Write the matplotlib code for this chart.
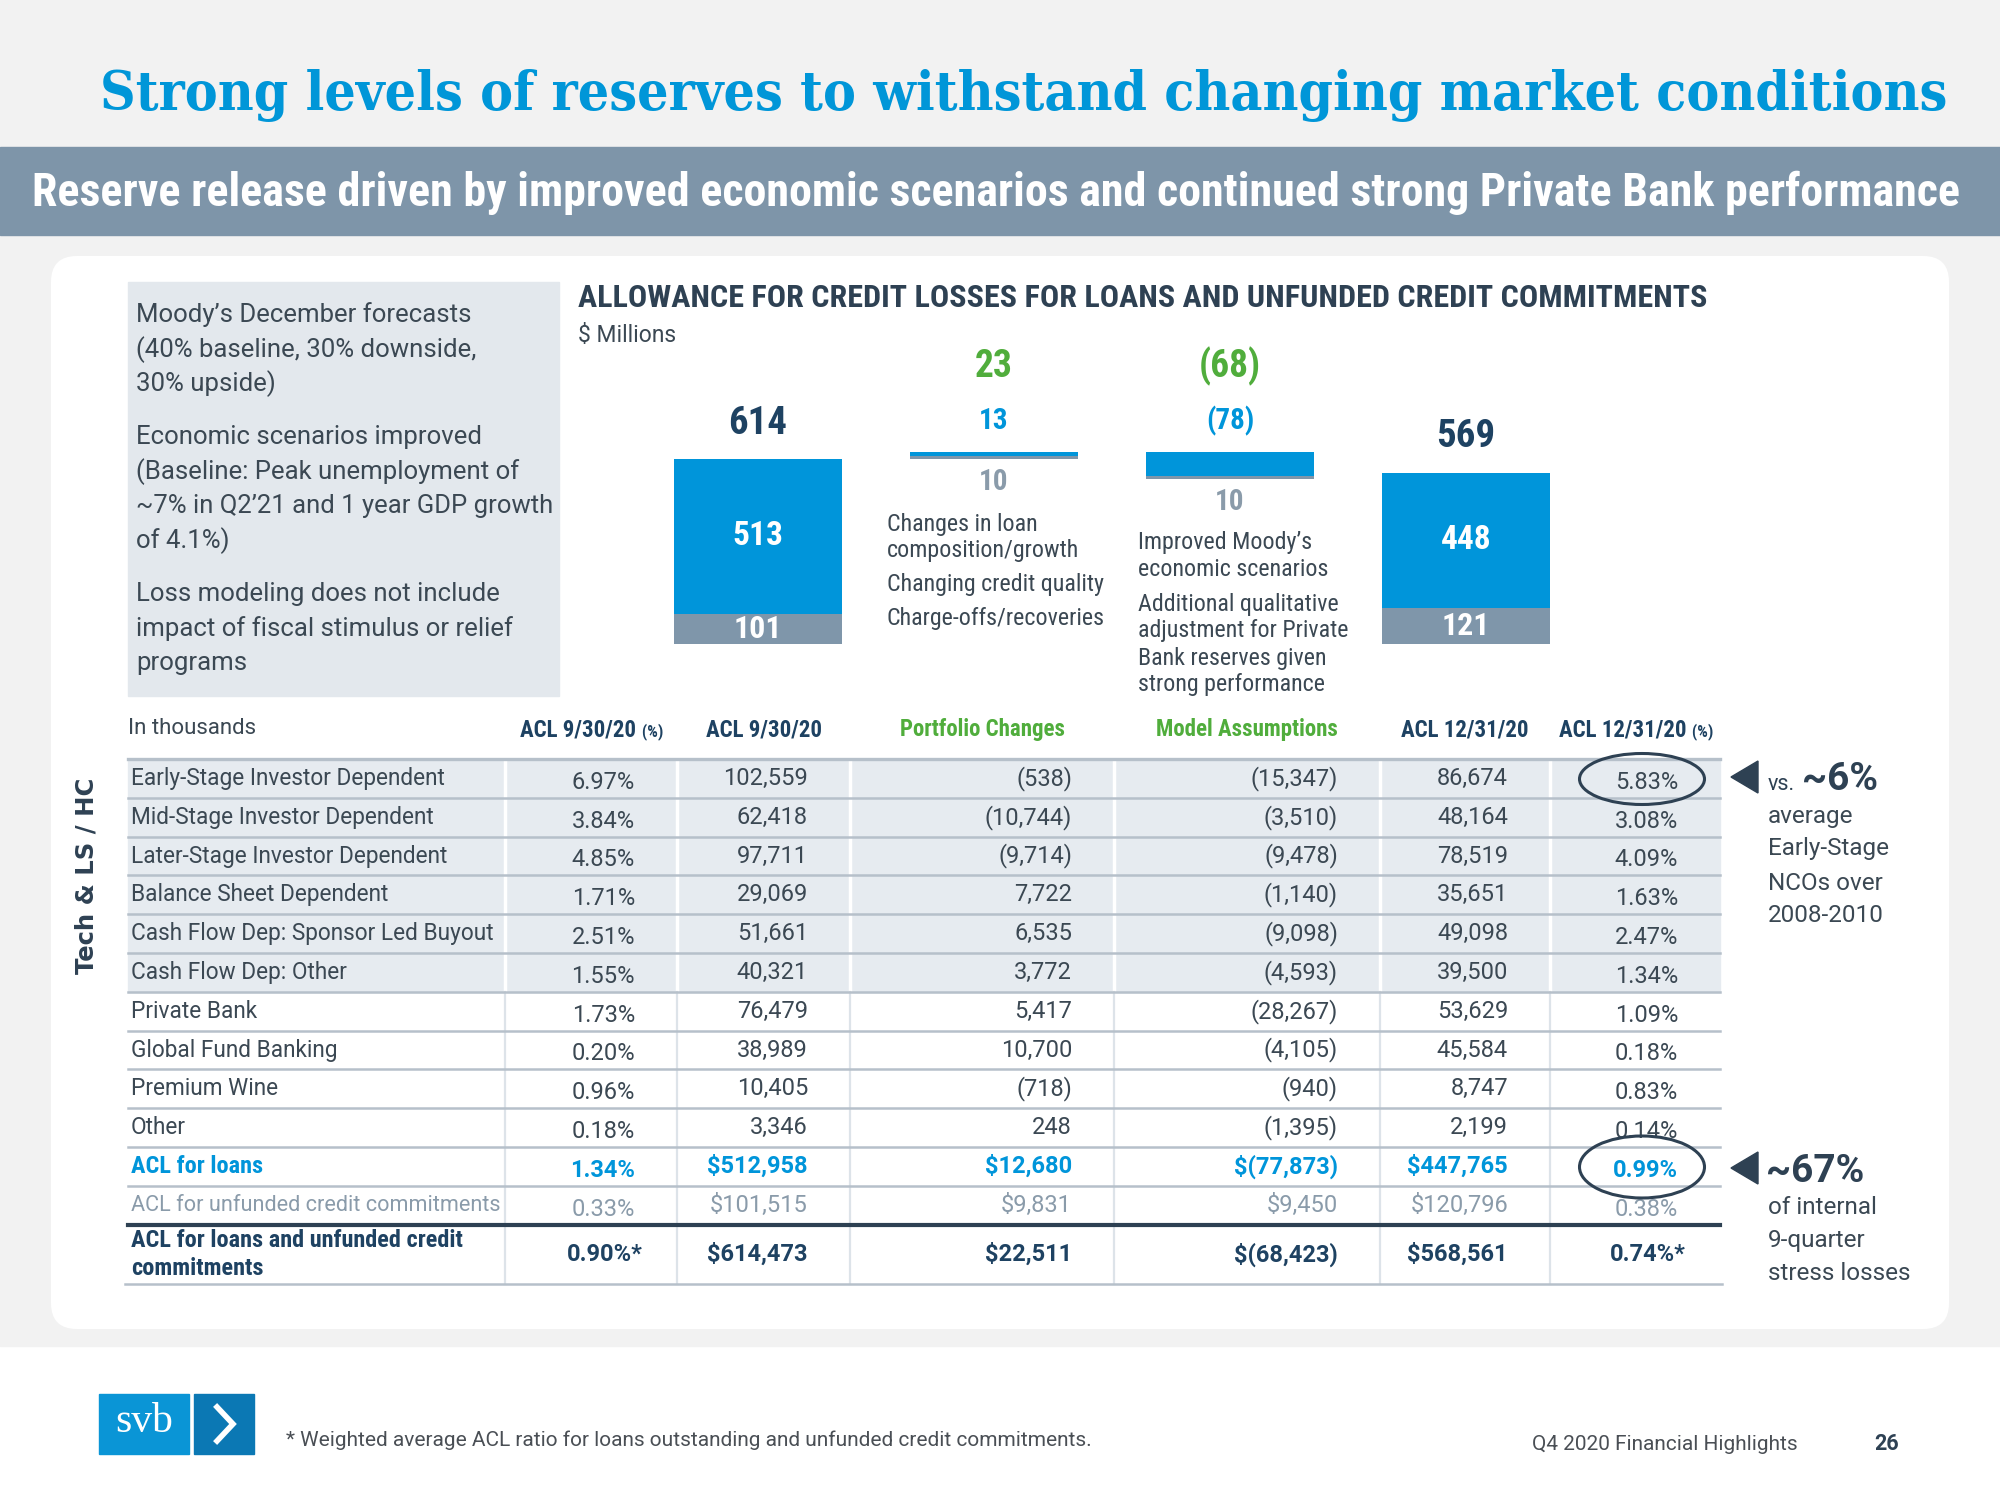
import numpy as np
import matplotlib.pyplot as plt
from matplotlib.patches import Rectangle, FancyBboxPatch, Ellipse, Polygon

# waterfall ($ millions)
steps = ['ACL 9/30/20', 'Portfolio Changes', 'Model Assumptions', 'ACL 12/31/20']
loans_m = [513, 13, -78, 448]
unfunded_m = [101, 10, 10, 121]
totals_m = [614, 23, -68, 569]

# table (in thousands)
segments = ['Early-Stage Investor Dependent', 'Mid-Stage Investor Dependent',
            'Later-Stage Investor Dependent', 'Balance Sheet Dependent',
            'Cash Flow Dep: Sponsor Led Buyout', 'Cash Flow Dep: Other',
            'Private Bank', 'Global Fund Banking', 'Premium Wine', 'Other',
            'ACL for loans', 'ACL for unfunded credit commitments']
pct_sep = [6.97, 3.84, 4.85, 1.71, 2.51, 1.55, 1.73, 0.20, 0.96, 0.18, 1.34, 0.33]
acl_sep = [102559, 62418, 97711, 29069, 51661, 40321, 76479, 38989, 10405, 3346, 512958, 101515]
portfolio_chg = [-538, -10744, -9714, 7722, 6535, 3772, 5417, 10700, -718, 248, 12680, 9831]
model_chg = [-15347, -3510, -9478, -1140, -9098, -4593, -28267, -4105, -940, -1395, -77873, 9450]
acl_dec = [86674, 48164, 78519, 35651, 49098, 39500, 53629, 45584, 8747, 2199, 447765, 120796]
pct_dec = [5.83, 3.08, 4.09, 1.63, 2.47, 1.34, 1.09, 0.18, 0.83, 0.14, 0.99, 0.38]
total_label = 'ACL for loans and unfunded credit\ncommitments'
total_pct = [0.90, 0.74]
total_vals = [614473, 22511, -68423, 568561]

SANS = ['Roboto', 'DejaVu Sans']
COND = ['Roboto Condensed', 'Liberation Sans Narrow', 'Roboto', 'DejaVu Sans']

BLUE = '#0095DA'
SLATE = '#7F96AA'
NAVY = '#1E4262'
DARK = '#2E4153'
INK = '#3B4853'
GREEN = '#50AD3C'
PALE = '#8A9BAA'
LINE = '#B6C0CA'


def money(v, dollar=False):
    s = f'{abs(v):,}'
    if v < 0:
        s = f'({s})'
    return ('$' if dollar else '') + s


fig = plt.figure(figsize=(20, 15), dpi=100)
fig.patch.set_facecolor('white')
page = fig.add_axes([0, 0, 1, 1])
page.set_xlim(0, 2000)
page.set_ylim(1500, 0)
page.axis('off')
R = fig.canvas.get_renderer()


def fit_width(t, width):
    w = t.get_window_extent(R).width
    t.set_fontsize(t.get_fontsize() * width / w)


# background pieces
page.add_patch(Rectangle((0, 0), 2000, 1346, color='#F2F2F2', zorder=0))
page.add_patch(Rectangle((0, 147), 2000, 88, color='#7E95A9', zorder=1))
page.add_patch(FancyBboxPatch((51, 256), 1898, 1073, boxstyle='round,pad=0,rounding_size=26',
                              fc='white', ec='none', zorder=1))

t = page.text(100, 96, 'Strong levels of reserves to withstand changing market conditions',
              family=['DejaVu Serif'], fontstretch='condensed', fontweight='bold',
              color='#0096D8', fontsize=40, va='center', ha='left', zorder=3)
fit_width(t, 1843)
t = page.text(32, 193, 'Reserve release driven by improved economic scenarios and continued strong Private Bank performance',
              family=COND, fontweight='bold', color='white', fontsize=26, va='center', ha='left', zorder=3)
fit_width(t, 1930)

# left info box
page.add_patch(Rectangle((128, 282), 431, 414, color='#E3E8ED', zorder=2))
box_lines = [("Moody\u2019s December forecasts", 315), ("(40% baseline, 30% downside,", 350),
             ("30% upside)", 384),
             ("Economic scenarios improved", 437), ("(Baseline: Peak unemployment of", 472),
             ("~7% in Q2\u201921 and 1 year GDP growth", 506), ("of 4.1%)", 541),
             ("Loss modeling does not include", 594), ("impact of fiscal stimulus or relief", 629),
             ("programs", 663)]
for s, y in box_lines:
    t = page.text(136, y, s, family=SANS, fontsize=18.5, color=INK, va='center', zorder=3)
    if t.get_window_extent(R).width > 418:
        fit_width(t, 418)

# chart header
t = page.text(578, 298, 'ALLOWANCE FOR CREDIT LOSSES FOR LOANS AND UNFUNDED CREDIT COMMITMENTS',
              family=COND, fontweight='bold', color=DARK, fontsize=20, va='center', zorder=3)
fit_width(t, 1127)
page.text(578, 336, '$ Millions', family=SANS, fontsize=16.5, color=INK, va='center', zorder=3)

# waterfall bars
px_per_m = 0.301
bax = fig.add_axes([640 / 2000, (1500 - 644) / 1500, 944 / 2000, 304 / 1500])
bax.set_xlim(-0.5, 3.5)
bax.set_ylim(0, 304 / px_per_m)
bax.axis('off')
bw = 0.712
start = totals_m[0]
for i in range(4):
    unf, lo = unfunded_m[i], loans_m[i]
    if i in (0, 3):
        bax.bar(i, unf, bottom=0, width=bw, color=SLATE)
        bax.bar(i, lo, bottom=unf, width=bw, color=BLUE)
        bax.annotate(f'{totals_m[i]}', (i, unf + lo), xytext=(0, 36), textcoords='offset pixels',
                     ha='center', va='center', family=COND, fontweight='bold', fontsize=28, color=NAVY)
        bax.text(i, unf + lo / 2, f'{lo}', ha='center', va='center', family=COND,
                 fontweight='bold', fontsize=24, color='white')
        bax.text(i, unf / 2, f'{unf}', ha='center', va='center', family=COND,
                 fontweight='bold', fontsize=23, color='white')
        continue
    if lo >= 0:
        gray_b, blue_b, top = start, start + unf, start + unf + lo
    else:
        blue_b = start + lo
        gray_b, top = blue_b - unf, start
    bax.bar(i, abs(lo), bottom=blue_b, width=bw, color=BLUE)
    bax.bar(i, unf, bottom=gray_b, width=bw, color=SLATE)
    lab = f'{lo}' if lo >= 0 else f'({-lo})'
    bax.annotate(lab, (i, top), xytext=(0, 31), textcoords='offset pixels', ha='center',
                 va='center', family=COND, fontweight='bold', fontsize=21, color=BLUE)
    tot = totals_m[i]
    lab = f'{tot}' if tot >= 0 else f'({-tot})'
    bax.annotate(lab, (i, top), xytext=(0, 86), textcoords='offset pixels', ha='center',
                 va='center', family=COND, fontweight='bold', fontsize=27, color=GREEN)
    bax.annotate(f'{unf}', (i, gray_b), xytext=(0, -23), textcoords='offset pixels', ha='center',
                 va='center', family=COND, fontweight='bold', fontsize=21, color=PALE)
    start += tot

notes2 = [('Changes in loan', 524), ('composition/growth', 550), ('Changing credit quality', 584),
          ('Charge-offs/recoveries', 619)]
notes3 = [('Improved Moody\u2019s', 543), ('economic scenarios', 570), ('Additional qualitative', 605),
          ('adjustment for Private', 631), ('Bank reserves given', 658), ('strong performance', 684)]
for s, y in notes2:
    page.text(887, y, s, family=COND, fontsize=17.3, color=INK, va='center', zorder=3)
for s, y in notes3:
    page.text(1138, y, s, family=COND, fontsize=17.3, color=INK, va='center', zorder=3)

# table
col_x = [128, 505, 677, 850, 1114, 1380, 1550, 1720]
row_top = 759
row_h = 38.8
n = len(segments)
total_bottom = 1284
page.add_patch(Rectangle((128, row_top), 1592, 6 * row_h, color='#E6EBF0', zorder=2))
for x in col_x[1:-1]:
    page.plot([x, x], [row_top, row_top + 6 * row_h], color='white', lw=2.5, zorder=3)
    page.plot([x, x], [row_top + 6 * row_h, total_bottom], color='#DDE3E9', lw=1.6, zorder=3)
for k in range(n):
    y = row_top + k * row_h
    page.plot([128, 1720], [y, y], color=LINE, lw=2.4 if k == 0 else 1.8, zorder=4)
y_thick = row_top + n * row_h
page.plot([128, 1720], [y_thick, y_thick], color=DARK, lw=3, zorder=4)
page.plot([125, 1722], [total_bottom, total_bottom], color=LINE, lw=1.8, zorder=4)

page.text(128, 728, 'In thousands', family=SANS, fontsize=16, color=INK, va='center', zorder=3)


def header(xc, main, suffix, color):
    t1 = page.text(0, 736, main, family=COND, fontweight='bold', fontsize=16.5, color=color,
                   va='baseline', zorder=3)
    w1 = t1.get_window_extent(R).width
    w2 = 0
    if suffix:
        t2 = page.text(0, 736, suffix, family=COND, fontweight='bold', fontsize=12,
                       color=color, va='baseline', zorder=3)
        w2 = t2.get_window_extent(R).width
    x0 = xc - (w1 + w2) / 2
    t1.set_x(x0)
    if suffix:
        t2.set_x(x0 + w1 + 2)


centers = [(col_x[i] + col_x[i + 1]) / 2 for i in range(1, 7)]
header(centers[0], 'ACL 9/30/20', ' (%)', NAVY)
header(centers[1], 'ACL 9/30/20', '', NAVY)
header(centers[2], 'Portfolio Changes', '', GREEN)
header(centers[3], 'Model Assumptions', '', GREEN)
header(centers[4], 'ACL 12/31/20', '', NAVY)
header(centers[5], 'ACL 12/31/20', ' (%)', NAVY)

right_x = [x - 42 for x in col_x[2:]]
for k in range(n):
    yc = row_top + (k + 0.5) * row_h
    color, weight = INK, 'normal'
    if k == n - 2:
        color, weight = BLUE, 'bold'
    elif k == n - 1:
        color = PALE
    dollar = k >= n - 2
    lt = page.text(131, yc, segments[k], family=COND if weight == 'bold' else SANS,
                   fontsize=17.5 if weight == 'bold' else 16.3, fontweight=weight,
                   color=color, va='center', zorder=5)
    if lt.get_window_extent(R).width > 368:
        fit_width(lt, 368)
    vals = [f'{pct_sep[k]:.2f}%', money(acl_sep[k], dollar), money(portfolio_chg[k], dollar),
            money(model_chg[k], dollar), money(acl_dec[k], dollar), f'{pct_dec[k]:.2f}%']
    for j, v in enumerate(vals):
        dy = 4 if j in (0, 5) else 0
        page.text(right_x[j], yc + dy, v, family=SANS, fontsize=17, fontweight=weight,
                  color=color, ha='right', va='center', zorder=5)

yc = (y_thick + total_bottom) / 2
page.text(131, yc, total_label, family=COND, fontweight='bold', fontsize=17.5, color=NAVY,
          va='center', linespacing=1.3, zorder=5)
tvals = [f'{total_pct[0]:.2f}%*', money(total_vals[0], True), money(total_vals[1], True),
         money(total_vals[2], True), money(total_vals[3], True), f'{total_pct[1]:.2f}%*']
for j, v in enumerate(tvals):
    page.text(right_x[j] + (8 if j in (0, 5) else 0), yc, v, family=SANS, fontsize=17,
              fontweight='bold', color=NAVY, ha='right', va='center', zorder=5)

page.text(87, 876, 'Tech & LS / HC', family=['DejaVu Sans'], fontweight='bold', fontsize=17.5,
          color=DARK, rotation=90, ha='center', va='center', zorder=5)

# callouts
page.add_patch(Ellipse((1642, 779), 125, 51, fc='none', ec=DARK, lw=2.2, zorder=6))
page.add_patch(Ellipse((1642, 1167), 125, 62, fc='none', ec=DARK, lw=2.2, zorder=6))
page.add_patch(Polygon([(1731, 777), (1758, 761), (1758, 793)], color=DARK, zorder=6))
page.add_patch(Polygon([(1731, 1168), (1758, 1152), (1758, 1184)], color=DARK, zorder=6))
page.text(1768, 790, 'vs.', family=SANS, fontsize=15.5, color=DARK, va='baseline', zorder=6)
page.text(1802, 790, '~6%', family=SANS, fontweight='bold', fontsize=28, color=DARK,
          va='baseline', zorder=6)
for s, y in [('average', 816), ('Early-Stage', 849), ('NCOs over', 883), ('2008-2010', 916)]:
    page.text(1768, y, s, family=SANS, fontsize=17.5, color=INK, va='center', zorder=6)
page.text(1766, 1182, '~67%', family=SANS, fontweight='bold', fontsize=28, color=DARK,
          va='baseline', zorder=6)
for s, y in [('of internal', 1208), ('9-quarter', 1241), ('stress losses', 1274)]:
    page.text(1768, y, s, family=SANS, fontsize=17.5, color=INK, va='center', zorder=6)

# footer
page.add_patch(Rectangle((99, 1394), 90, 60, color='#0A95D6', zorder=3))
page.add_patch(Rectangle((194, 1394), 60, 60, color='#0B78B4', zorder=3))
page.text(144, 1422, 'svb', family=['Liberation Serif', 'DejaVu Serif'], fontsize=30,
          color='white', ha='center', va='center', zorder=4)
page.plot([217, 233, 217], [1407, 1424, 1441], color='white', lw=4, solid_joinstyle='miter',
          zorder=4)
page.text(286, 1440, '* Weighted average ACL ratio for loans outstanding and unfunded credit commitments.',
          family=SANS, fontsize=15, color='#4A4F55', va='center', zorder=3)
page.text(1798, 1444, 'Q4 2020 Financial Highlights', family=SANS, fontsize=15,
          color='#4A4F55', ha='right', va='center', zorder=3)
page.text(1887, 1444, '26', family=SANS, fontweight='bold', fontsize=15.5, color=DARK,
          ha='center', va='center', zorder=3)

fig.savefig('out.png', dpi=100)
